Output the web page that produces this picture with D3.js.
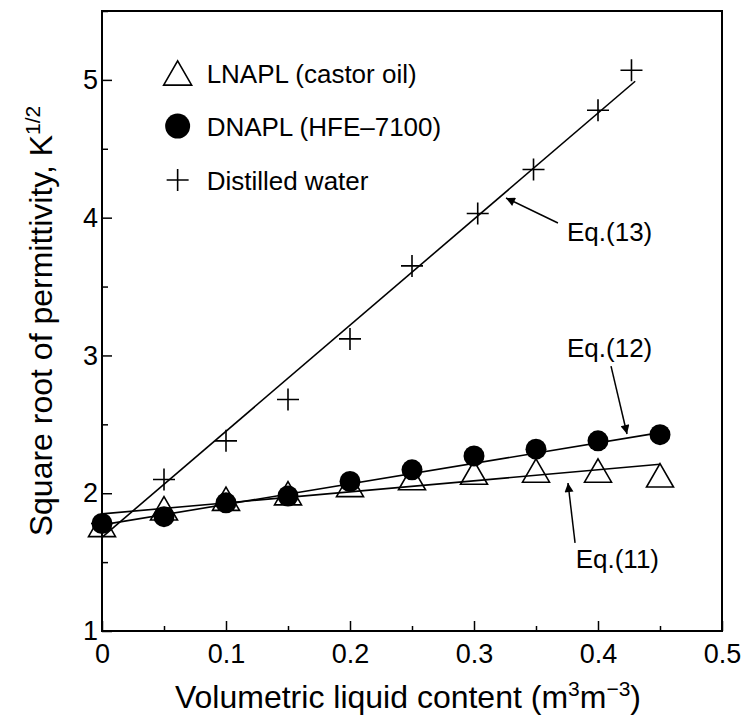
<!DOCTYPE html>
<html><head><meta charset="utf-8">
<script src="https://cdn.jsdelivr.net/npm/d3@7"></script>
<style>body{margin:0;background:#fff} text{font-family:"Liberation Sans",Arial,sans-serif;fill:#000}</style>
</head><body>
<svg id="chart" width="745" height="716"></svg>
<script>
// ---- data ----
const xValues = [0, 0.05, 0.1, 0.15, 0.2, 0.25, 0.3, 0.35, 0.4, 0.45];
const lnaplY  = [1.77, 1.89, 1.96, 2.00, 2.06, 2.11, 2.15, 2.165, 2.165, 2.13];
const dnaplY  = [1.78, 1.83, 1.93, 1.98, 2.085, 2.17, 2.27, 2.32, 2.38, 2.425];
const waterX  = [0, 0.05, 0.1, 0.15, 0.2, 0.25, 0.303, 0.348, 0.4, 0.427];
const waterY  = [1.78, 2.10, 2.38, 2.68, 3.12, 3.65, 4.03, 4.35, 4.78, 5.07];
const fit11X = [0, 0.45],  fit11Y = [1.85, 2.21];
const fit12X = [0, 0.45],  fit12Y = [1.77, 2.44];
const fit13X = [0, 0.43],  fit13Y = [1.68, 4.99];
const xTicks = [0, 0.1, 0.2, 0.3, 0.4, 0.5];
const xTickLabels = ["0", "0.1", "0.2", "0.3", "0.4", "0.5"];
const yTicks = [1, 2, 3, 4, 5];
const yTickLabels = ["1", "2", "3", "4", "5"];
const legendLabels = ["LNAPL (castor oil)", "DNAPL (HFE\u20137100)", "Distilled water"];
const eqLabels = ["Eq.(11)", "Eq.(12)", "Eq.(13)"];
// annotation anchors (data units): [textX, textY, tailX, tailY, tipX, tipY]
const eqAnchors = [
  [0.382, 1.457, 0.3815, 1.639, 0.3758, 2.074],
  [0.375, 2.989, 0.4105, 2.923, 0.4234, 2.43],
  [0.375, 3.83, 0.3677, 3.961, 0.3258, 4.143]
];

// ---- layout ----
const svg = d3.select("#chart");
const x = d3.scaleLinear().domain([0, 0.5]).range([102, 722]);
const y = d3.scaleLinear().domain([1, 5.5]).range([631, 11]);

svg.append("defs").append("marker")
  .attr("id", "ah").attr("viewBox", "0 0 10 10").attr("refX", 10).attr("refY", 5)
  .attr("markerWidth", 13).attr("markerHeight", 9).attr("markerUnits", "userSpaceOnUse")
  .attr("orient", "auto")
  .append("path").attr("d", "M0,0 L10,5 L0,10 Z").attr("fill", "#000");

// axes
const gx = svg.append("g").attr("transform", `translate(0,${y(1)})`)
  .call(d3.axisBottom(x).tickValues(xTicks).tickFormat((d, i) => xTickLabels[i]).tickSize(-10).tickPadding(13));
const gxm = svg.append("g").attr("transform", `translate(0,${y(1)})`)
  .call(d3.axisBottom(x).tickValues([0.05, 0.15, 0.25, 0.35, 0.45]).tickFormat("").tickSize(-5));
const gy = svg.append("g").attr("transform", `translate(${x(0)},0)`)
  .call(d3.axisLeft(y).tickValues(yTicks).tickFormat((d, i) => yTickLabels[i]).tickSize(-10).tickPadding(4));
const gym = svg.append("g").attr("transform", `translate(${x(0)},0)`)
  .call(d3.axisLeft(y).tickValues([1.5, 2.5, 3.5, 4.5, 5.5]).tickFormat("").tickSize(-6));
[gx, gxm, gy, gym].forEach(g => {
  g.select(".domain").remove();
  g.selectAll("line").attr("stroke", "#000").attr("stroke-width", 1.5);
  g.selectAll("text").style("font-family", '"Liberation Sans",Arial,sans-serif').style("font-size", "27px").attr("fill", "#000");
});
gx.selectAll("text").attr("dy", "0.72em");

svg.append("rect").attr("x", x(0)).attr("y", y(5.5)).attr("width", x(0.5) - x(0)).attr("height", y(1) - y(5.5))
  .attr("fill", "none").attr("stroke", "#000").attr("stroke-width", 2);

// axis titles
const xt = svg.append("text").attr("x", (x(0) + x(0.5)) / 2 - 4).attr("y", 708).attr("text-anchor", "middle").style("font-size", "32px");
xt.append("tspan").text("Volumetric liquid content (m");
xt.append("tspan").text("3").attr("dy", -12).style("font-size", "21px");
xt.append("tspan").text("m").attr("dy", 12);
xt.append("tspan").text("\u22123").attr("dy", -12).style("font-size", "21px");
xt.append("tspan").text(")").attr("dy", 12);

const yt = svg.append("text").attr("transform", `translate(52,${(y(1) + y(5.5)) / 2}) rotate(-90)`).attr("text-anchor", "middle").style("font-size", "32px");
yt.append("tspan").text("Square root of permittivity, K");
yt.append("tspan").text("1/2").attr("dy", -12).style("font-size", "21px");

// fit lines
const line = d3.line().x(d => x(d[0])).y(d => y(d[1]));
[[fit11X, fit11Y], [fit12X, fit12Y], [fit13X, fit13Y]].forEach(([fx, fy]) => {
  svg.append("path").attr("d", line(fx.map((v, i) => [v, fy[i]]))).attr("fill", "none").attr("stroke", "#000").attr("stroke-width", 1.6);
});

// markers
const triPath = (s) => { const h = s * Math.sqrt(3) / 2; return `M0,${-h/2} L${s/2},${h/2} L${-s/2},${h/2} Z`; };
const crossPath = (s) => `M${-s/2},0 H${s/2} M0,${-s/2} V${s/2}`;

svg.append("g").selectAll("path").data(xValues.map((v, i) => [v, lnaplY[i]])).join("path")
  .attr("transform", d => `translate(${x(d[0])},${y(d[1])})`).attr("d", triPath(27))
  .attr("fill", "none").attr("stroke", "#000").attr("stroke-width", 1.6);
svg.append("g").selectAll("circle").data(xValues.map((v, i) => [v, dnaplY[i]])).join("circle")
  .attr("cx", d => x(d[0])).attr("cy", d => y(d[1])).attr("r", 10.5).attr("fill", "#000");
svg.append("g").selectAll("path").data(waterX.map((v, i) => [v, waterY[i]])).join("path")
  .attr("transform", d => `translate(${x(d[0])},${y(d[1])})`).attr("d", crossPath(22))
  .attr("fill", "none").attr("stroke", "#000").attr("stroke-width", 1.6);

// legend
const legY = [5.05, 4.665, 4.273];
const lgX = 0.061;
svg.append("path").attr("transform", `translate(${x(lgX)},${y(legY[0])})`).attr("d", triPath(28))
  .attr("fill", "none").attr("stroke", "#000").attr("stroke-width", 1.6);
svg.append("circle").attr("cx", x(lgX)).attr("cy", y(legY[1])).attr("r", 12.5).attr("fill", "#000");
svg.append("path").attr("transform", `translate(${x(lgX)},${y(legY[2])})`).attr("d", crossPath(22))
  .attr("fill", "none").attr("stroke", "#000").attr("stroke-width", 1.6);
legendLabels.forEach((t, i) => {
  svg.append("text").attr("x", x(lgX) + 29).attr("y", y(legY[i]) + 9.5).style("font-size", "26px").text(t);
});

// equation annotations
eqLabels.forEach((t, i) => {
  const a = eqAnchors[i];
  svg.append("text").attr("x", x(a[0])).attr("y", y(a[1])).style("font-size", "26px").text(t);
  svg.append("line").attr("x1", x(a[2])).attr("y1", y(a[3])).attr("x2", x(a[4])).attr("y2", y(a[5]))
    .attr("stroke", "#000").attr("stroke-width", 1.5).attr("marker-end", "url(#ah)");
});
</script>
</body></html>
